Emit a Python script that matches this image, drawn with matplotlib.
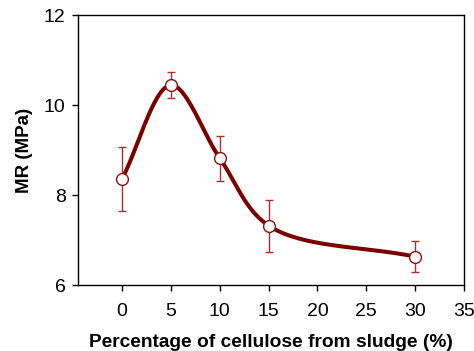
import numpy as np
import matplotlib
matplotlib.use("Agg")
import matplotlib.pyplot as plt

x = [0, 5, 10, 15, 30]
mr = [8.35, 10.44, 8.82, 7.32, 6.63]
err = [0.71, 0.29, 0.50, 0.58, 0.34]
xticks = [0, 5, 10, 15, 20, 25, 30, 35]
yticks = [6, 8, 10, 12]

plt.rcParams['font.family'] = ['Liberation Sans', 'DejaVu Sans']

def catmull_rom(px, py, n=60):
    px = np.asarray(px, float); py = np.asarray(py, float)
    P = np.column_stack([px, py])
    P = np.vstack([2 * P[0] - P[1], P, 2 * P[-1] - P[-2]])
    out = []
    for i in range(1, len(P) - 2):
        p0, p1, p2, p3 = P[i - 1], P[i], P[i + 1], P[i + 2]
        def tj(ti, a, b):
            return ti + np.linalg.norm(b - a) ** 0.5
        t0 = 0.0
        t1 = tj(t0, p0, p1); t2 = tj(t1, p1, p2); t3 = tj(t2, p2, p3)
        t = np.linspace(t1, t2, n)[:, None]
        A1 = (t1 - t) / (t1 - t0) * p0 + (t - t0) / (t1 - t0) * p1
        A2 = (t2 - t) / (t2 - t1) * p1 + (t - t1) / (t2 - t1) * p2
        A3 = (t3 - t) / (t3 - t2) * p2 + (t - t2) / (t3 - t2) * p3
        B1 = (t2 - t) / (t2 - t0) * A1 + (t - t0) / (t2 - t0) * A2
        B2 = (t3 - t) / (t3 - t1) * A2 + (t - t1) / (t3 - t1) * A3
        C = (t2 - t) / (t2 - t1) * B1 + (t - t1) / (t2 - t1) * B2
        out.append(C)
    C = np.vstack(out)
    return C[:, 0], C[:, 1]

fig = plt.figure(figsize=(4.74, 3.51), dpi=100)
ax = fig.add_axes([78 / 474, 1 - 285 / 351, (464 - 78) / 474, (285 - 15) / 351])

sx = np.array(x) / 35.0 * 386
sy = np.array(mr) / 6.0 * 270
cx, cy = catmull_rom(sx, sy)
ax.plot(cx / 386 * 35.0, cy / 270 * 6.0, color='#7a0000', lw=2.9, zorder=2, solid_capstyle='round')

ax.errorbar(x, mr, yerr=err, fmt='none', ecolor='#a83030', elinewidth=1.0,
            capsize=3, capthick=1.0, zorder=3)
ax.plot(x, mr, 'o', ms=8.5, mfc='white', mec='#8b1010', mew=1.0, zorder=4)

ax.set_xlim(-4.5, 35)
ax.set_ylim(6, 12)
ax.set_xticks(xticks)
ax.set_yticks(yticks)
ax.tick_params(axis='both', direction='out', length=4, width=1, labelsize=14,
               top=False, right=False)
ax.tick_params(axis='x', pad=9)
ax.tick_params(axis='y', pad=5)
for s in ax.spines.values():
    s.set_linewidth(1.0)
ax.set_xlabel('Percentage of cellulose from sludge (%)', fontsize=13.8, fontweight='bold', labelpad=10)
ax.set_ylabel('MR (MPa)', fontsize=13.5, fontweight='bold', labelpad=8)

fig.savefig('out.png', dpi=100)
